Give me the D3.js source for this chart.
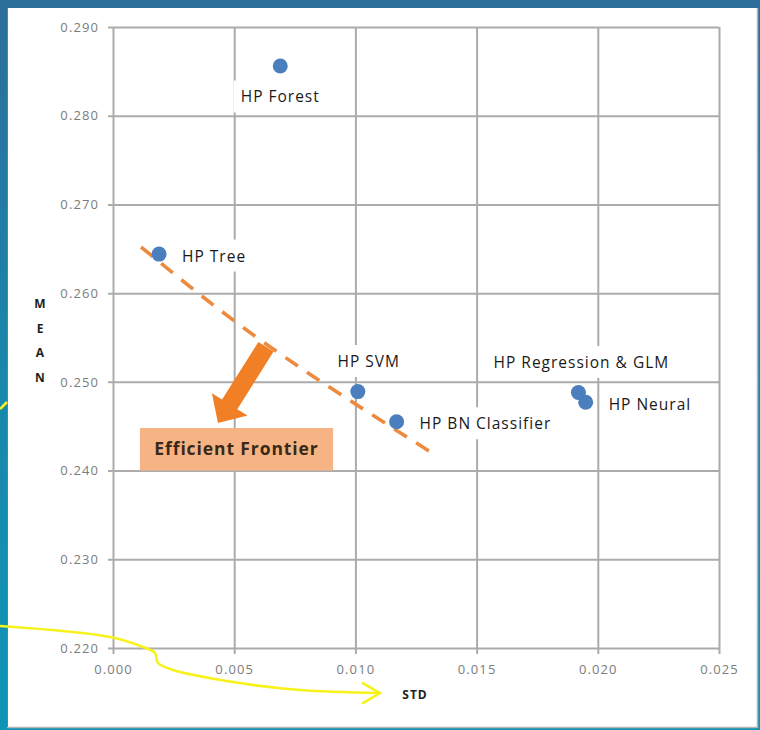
<!DOCTYPE html>
<html><head><meta charset="utf-8">
<script src="https://cdn.jsdelivr.net/npm/d3@7"></script>
<style>
html,body{margin:0;padding:0;background:#fff;}
svg{display:block;}
text{font-family:"Open Sans",sans-serif;}
</style></head><body>
<script>
// Model results: standard deviation vs mean
const models = ["HP Forest", "HP Tree", "HP SVM", "HP BN Classifier", "HP Regression & GLM", "HP Neural"];
const stdValues = [0.0069, 0.0019, 0.0101, 0.0117, 0.0192, 0.0195];
const meanValues = [0.2856, 0.2644, 0.2489, 0.2455, 0.2488, 0.2477];
const labelSides = ["below", "right", "above", "right", "above", "right"];

const xTicks = [0.000, 0.005, 0.010, 0.015, 0.020, 0.025];
const yTicks = [0.220, 0.230, 0.240, 0.250, 0.260, 0.270, 0.280, 0.290];

// Efficient frontier guide (std, mean)
const frontierStd = [0.00116, 0.00631, 0.01304];
const frontierMean = [0.2652, 0.25427, 0.2422];
// Callout arrow from the frontier, tail then tip (std, mean)
const arrowStd = [0.00631, 0.00433];
const arrowMean = [0.25395, 0.24536];
// Callout box extent (std, mean)
const boxStd = [0.00111, 0.00908];
const boxMean = [0.2448, 0.2400];
const boxText = "Efficient Frontier";

// Hand-drawn highlight stroke pointing at the STD axis (std, mean)
const markStd = [-0.00466, -0.00012, 0.00124, 0.00173, 0.00186, 0.00248, 0.00495, 0.00771, 0.01101];
const markMean = [0.22248, 0.22124, 0.22011, 0.21944, 0.21831, 0.21752, 0.21617, 0.21526, 0.21492];

const W = 760, H = 730;
const svg = d3.select("body").append("svg").attr("width", W).attr("height", H);

// slide background
const defs = svg.append("defs");
const bg = defs.append("linearGradient").attr("id", "bg").attr("x1", 0).attr("y1", 0).attr("x2", 0).attr("y2", 1);
bg.append("stop").attr("offset", "0").attr("stop-color", "#2d6e9b");
bg.append("stop").attr("offset", "0.5").attr("stop-color", "#1a86ab");
bg.append("stop").attr("offset", "1").attr("stop-color", "#0f95b6");
svg.append("rect").attr("width", W).attr("height", H).attr("fill", "url(#bg)");

// chart panel
svg.append("rect").attr("x", 7).attr("y", 8).attr("width", 750).attr("height", 719)
  .attr("fill", "#ffffff");
svg.append("line").attr("x1", 7.5).attr("x2", 7.5).attr("y1", 8).attr("y2", 727).attr("stroke", "#6b7d86").attr("stroke-width", 1);
svg.append("line").attr("x1", 7).attr("x2", 757).attr("y1", 727.5).attr("y2", 727.5).attr("stroke", "#b5b5b5").attr("stroke-width", 1.5);
svg.append("line").attr("x1", 757.5).attr("x2", 757.5).attr("y1", 8).attr("y2", 728).attr("stroke", "#b5b5b5").attr("stroke-width", 1.5);

const x = d3.scaleLinear().domain([0, 0.025]).range([113, 719]);
const y = d3.scaleLinear().domain([0.22, 0.29]).range([648, 27]);

const gridColor = "#ababab";

// gridlines + ticks via axes
const xAxis = d3.axisBottom(x).tickValues(xTicks).tickFormat(d3.format(".3f"))
  .tickSize(-(y(0.22) - y(0.29))).tickPadding(17);
const gx = svg.append("g").attr("transform", `translate(0,${y(0.22)})`).call(xAxis);
gx.select(".domain").remove();
gx.selectAll(".tick line").attr("stroke", gridColor).attr("stroke-width", 2).attr("y1", 6);
gx.selectAll(".tick text").attr("fill", "#7c7c7c").style("font-size", "13px").style("letter-spacing", "1.1px")
  .style("font-family", "'Open Sans',sans-serif");

const yAxis = d3.axisLeft(y).tickValues(yTicks).tickFormat(d3.format(".3f"))
  .tickSize(-(x(0.025) - x(0))).tickPadding(14);
const gy = svg.append("g").attr("transform", `translate(${x(0)},0)`).call(yAxis);
gy.select(".domain").remove();
gy.selectAll(".tick line").attr("stroke", gridColor).attr("stroke-width", 2).attr("x1", -5);
gy.selectAll(".tick text").attr("fill", "#7c7c7c").style("font-size", "13px").style("letter-spacing", "1.1px")
  .style("font-family", "'Open Sans',sans-serif");

// axis titles
const meanLetters = "MEAN".split("");
svg.append("g").selectAll("text").data(meanLetters).join("text")
  .attr("x", 40).attr("y", (d, i) => 308 + i * 24.5)
  .attr("text-anchor", "middle").style("font-size", "12px").style("font-weight", "700")
  .attr("fill", "#1e1e1e").text(d => d);
svg.append("text").attr("x", x(0.0125) - 1).attr("y", 699)
  .attr("text-anchor", "middle").style("font-size", "12px").style("font-weight", "700")
  .style("letter-spacing", "1px").attr("fill", "#1e1e1e").text("STD");

const pts = models.map((m, i) => ({ name: m, std: stdValues[i], mean: meanValues[i], side: labelSides[i] }));

// data labels with white backing
const labelG = svg.append("g");
pts.forEach(p => {
  const cx = x(p.std), cy = y(p.mean);
  let tx, ty, anchor;
  if (p.side === "below") { tx = cx; ty = cy + 31; anchor = "middle"; }
  else if (p.side === "above") { tx = cx + (p.name === "HP SVM" ? 11 : 3); ty = cy - 30; anchor = "middle"; }
  else { tx = cx + 23; ty = cy + 2; anchor = "start"; }
  const t = labelG.append("text").attr("x", tx).attr("y", ty).attr("dy", "0.35em")
    .attr("text-anchor", anchor).style("font-size", "15.5px").style("letter-spacing", "1px")
    .attr("fill", "#1a1a1a").text(p.name);
  const b = t.node().getBBox();
  labelG.insert("rect", "text").attr("x", b.x - 7).attr("y", b.y - 5).attr("width", b.width + 14).attr("height", b.height + 10)
    .attr("fill", "#ffffff");
});
labelG.selectAll("text").raise();

// efficient frontier dashed guide
const frontierPts = frontierStd.map((s, i) => [x(s), y(frontierMean[i])]);
svg.append("path")
  .attr("d", d3.line().curve(d3.curveNatural)(frontierPts))
  .attr("fill", "none")
  .attr("stroke", "#ec8a3f").attr("stroke-width", 3.6).attr("stroke-dasharray", "15,11");

// points
svg.append("g").selectAll("circle").data(pts).join("circle")
  .attr("cx", d => x(d.std)).attr("cy", d => y(d.mean)).attr("r", 7.5)
  .attr("fill", "#4a7ebd");

labelG.raise();

// block arrow from the frontier
(function () {
  const tx = x(arrowStd[0]), ty = y(arrowMean[0]);
  const px = x(arrowStd[1]), py = y(arrowMean[1]);
  const L = Math.hypot(px - tx, py - ty);
  const ux = (px - tx) / L, uy = (py - ty) / L;
  const nx = -uy, ny = ux;
  const w = 9, hw = 21, hl = 22;
  const bx = px - ux * hl, by = py - uy * hl;
  const poly = [
    [tx + nx * w, ty + ny * w], [bx + nx * w, by + ny * w], [bx + nx * hw, by + ny * hw],
    [px, py],
    [bx - nx * hw, by - ny * hw], [bx - nx * w, by - ny * w], [tx - nx * w, ty - ny * w]
  ];
  svg.append("polygon").attr("points", poly.map(p => p.join(",")).join(" "))
    .attr("fill", "#f07f26");
})();

// callout box
svg.append("rect")
  .attr("x", x(boxStd[0])).attr("y", y(boxMean[0]))
  .attr("width", x(boxStd[1]) - x(boxStd[0])).attr("height", y(boxMean[1]) - y(boxMean[0]))
  .attr("fill", "#f6b484");
svg.append("text")
  .attr("x", (x(boxStd[0]) + x(boxStd[1])) / 2).attr("y", (y(boxMean[0]) + y(boxMean[1])) / 2)
  .attr("dy", "0.35em").attr("text-anchor", "middle")
  .style("font-size", "17.5px").style("font-weight", "700").style("letter-spacing", "0.9px")
  .attr("fill", "#3a2818").text(boxText);

// yellow highlight stroke
const markPts = markStd.map((s, i) => [x(s), y(markMean[i])]);
svg.append("path").attr("d", d3.line().curve(d3.curveCatmullRom)(markPts))
  .attr("fill", "none").attr("stroke", "#f6f21a").attr("stroke-width", 2.6).attr("stroke-linecap", "round");
const tip = markPts[markPts.length - 1];
svg.append("path").attr("d", `M${tip[0] - 17},${tip[1] - 10}L${tip[0]},${tip[1]}L${tip[0] - 17},${tip[1] + 10}`)
  .attr("fill", "none").attr("stroke", "#f6f21a").attr("stroke-width", 2.6).attr("stroke-linecap", "round");
svg.append("path").attr("d", `M0,409L7,402`)
  .attr("fill", "none").attr("stroke", "#f6f21a").attr("stroke-width", 2.6);
</script>
</body></html>
